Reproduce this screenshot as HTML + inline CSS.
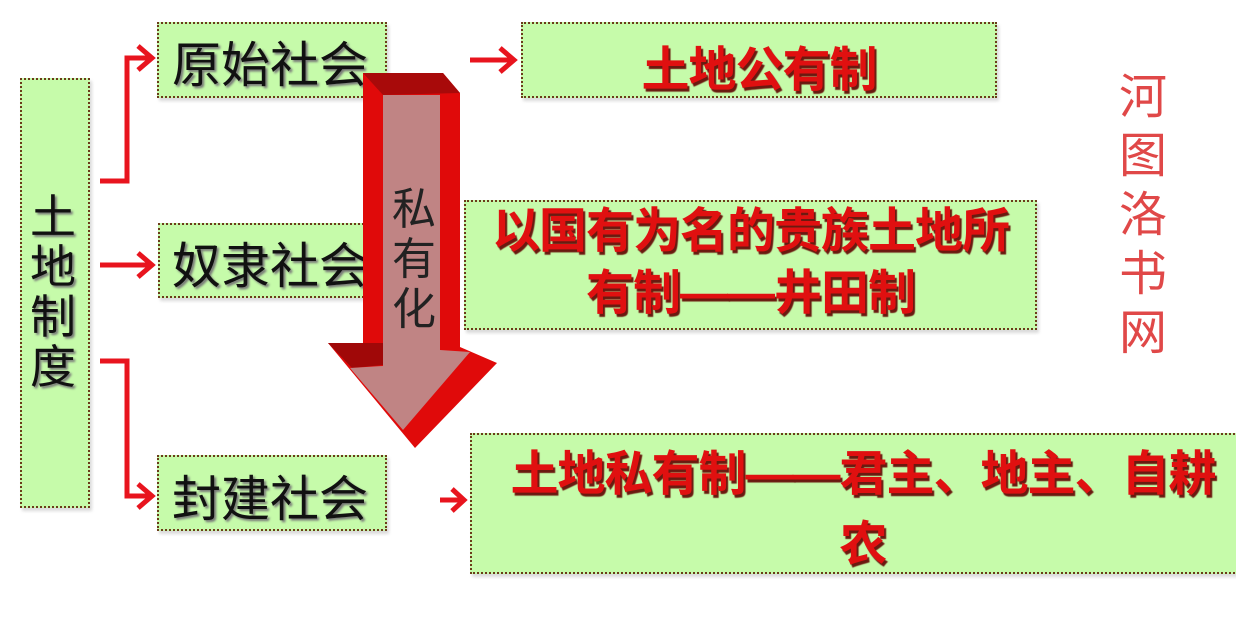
<!DOCTYPE html>
<html><head><meta charset="utf-8"><style>
body{margin:0;width:1236px;height:624px;background:#fff;position:relative;overflow:hidden;font-family:"Liberation Sans","Noto Sans CJK SC",sans-serif}
.b{position:absolute;background:#c6fbaa;border:2px dotted #6b3b1a;box-sizing:border-box;box-shadow:2px 3px 3px rgba(0,0,0,.15)}
.k{position:absolute;color:#111;font-size:49px;text-shadow:2px 2px 2px #777;white-space:nowrap}
.r{position:absolute;color:#e01010;font-size:48px;font-weight:bold;text-shadow:2px 3px 1px #6a1a10;white-space:nowrap;text-align:center;letter-spacing:-1px}
</style></head><body>
<div class="b" style="left:20px;top:78px;width:70px;height:430px"></div>
<div class="k" style="left:30px;top:192px;width:48px;line-height:50px;white-space:normal;font-size:46px">土地制度</div>

<div class="b" style="left:157px;top:22px;width:230px;height:76px"></div>
<div class="k" style="left:172px;top:26px">原始社会</div>
<div class="b" style="left:158px;top:223px;width:230px;height:75px"></div>
<div class="k" style="left:172px;top:227px">奴隶社会</div>
<div class="b" style="left:157px;top:455px;width:230px;height:76px"></div>
<div class="k" style="left:172px;top:460px">封建社会</div>

<div class="b" style="left:521px;top:22px;width:476px;height:76px"></div>
<div class="r" style="left:521px;top:30px;width:476px">土地公有制</div>
<div class="b" style="left:464px;top:200px;width:573px;height:130px"></div>
<div class="r" style="left:464px;top:201px;width:573px;line-height:62px">以国有为名的贵族土地所<br>有制——井田制</div>
<div class="b" style="left:470px;top:433px;width:780px;height:141px"></div>
<div class="r" style="left:480px;top:440px;width:766px;line-height:70px">土地私有制——君主、地主、自耕<br>农</div>

<div style="position:absolute;left:1115px;top:68px;width:56px;color:#e04848;font-size:48px;line-height:59px;white-space:normal;text-align:center">河图洛书网</div>

<svg width="1236" height="624" style="position:absolute;left:0;top:0">
<g fill="none" stroke="#e8141e" stroke-width="5">
<polyline points="100,181 127,181 127,58 150,58"/>
<polyline points="138,46 152,58 138,70"/>
<line x1="100" y1="265" x2="150" y2="265"/>
<polyline points="138,253 152,265 138,277"/>
<polyline points="100,361 127,361 127,496 150,496"/>
<polyline points="138,484 152,496 138,508"/>
<line x1="470" y1="60" x2="512" y2="60"/>
<polyline points="500,48 514,60 500,72"/>
<line x1="440" y1="500" x2="462" y2="500"/>
<polyline points="452,489 464,500 452,511"/>
</g>
<polygon points="363,73 443,73 460,93 460,347 497,363 415,448 328,343 363,343" fill="#e00a0a"/>
<polygon points="363,73 443,73 460,93 383,95" fill="#a80a0a"/>
<polygon points="328,343 383,343 383,365 352,368" fill="#a00808"/>
<polygon points="383,95 440,95 440,350 470,352 403,430 350,368 383,366" fill="#c08484"/>
<text x="414" y="224" font-size="44" fill="#222" text-anchor="middle" font-family="Liberation Sans,Noto Sans CJK SC,sans-serif">私</text>
<text x="414" y="274" font-size="44" fill="#222" text-anchor="middle" font-family="Liberation Sans,Noto Sans CJK SC,sans-serif">有</text>
<text x="414" y="324" font-size="44" fill="#222" text-anchor="middle" font-family="Liberation Sans,Noto Sans CJK SC,sans-serif">化</text>
</svg>
</body></html>
